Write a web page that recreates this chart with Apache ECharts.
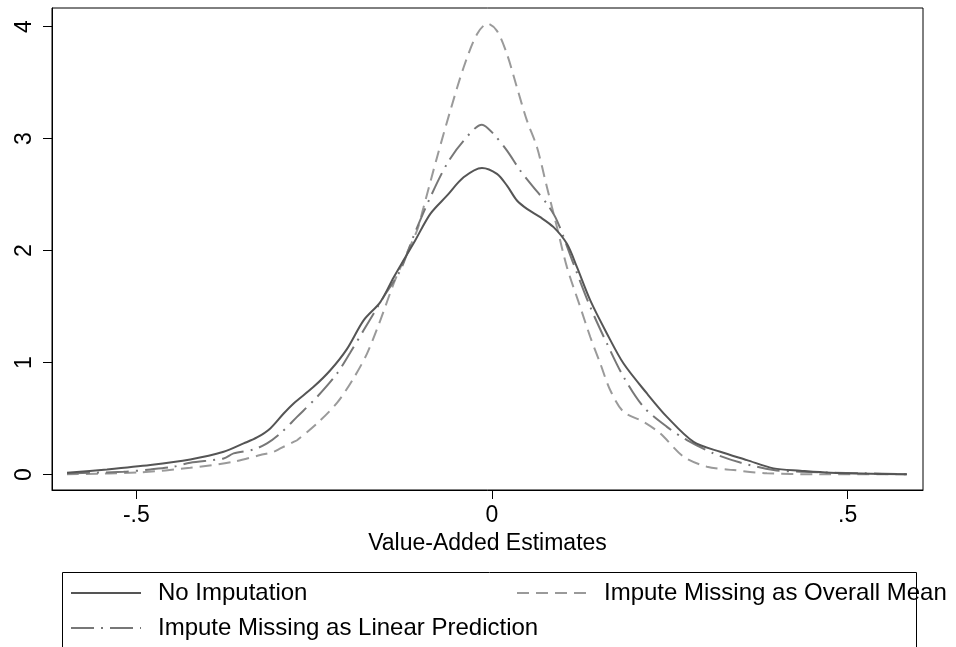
<!DOCTYPE html>
<html>
<head>
<meta charset="utf-8">
<script src="https://cdn.jsdelivr.net/npm/echarts@6/dist/echarts.min.js"></script>
<style>
html,body{margin:0;padding:0;background:#fff;}
#chart{width:956px;height:647px;}
</style>
</head>
<body>
<div id="chart"></div>
<script>
// Series names
var seriesNames = ['No Imputation', 'Impute Missing as Overall Mean', 'Impute Missing as Linear Prediction'];

// Kernel density estimates: [value-added estimate, density]
var noImputation = [
  [-0.5975,0.016],[-0.5413,0.046],[-0.4804,0.085],[-0.4242,0.135],[-0.3773,0.203],
  [-0.3492,0.278],[-0.3304,0.331],[-0.3117,0.412],[-0.2929,0.545],[-0.2789,0.635],
  [-0.2508,0.783],[-0.2273,0.931],[-0.2040,1.12],[-0.1805,1.377],[-0.1570,1.54],
  [-0.1383,1.76],[-0.1080,2.09],[-0.0867,2.328],[-0.0633,2.49],[-0.0399,2.654],
  [-0.0141,2.738],[0.0070,2.685],[0.0211,2.58],[0.0351,2.447],[0.0492,2.372],
  [0.0679,2.298],[0.0866,2.209],[0.1054,2.06],[0.1195,1.852],[0.1382,1.555],
  [0.1617,1.258],[0.1850,0.991],[0.2179,0.724],[0.2460,0.515],[0.2834,0.292],
  [0.3210,0.203],[0.3585,0.129],[0.3959,0.055],[0.4334,0.034],[0.4756,0.016],
  [0.5834,0.002]
];
var overallMean = [
  [-0.5975,0.002],[-0.4944,0.02],[-0.4242,0.06],[-0.3633,0.114],[-0.3258,0.174],
  [-0.3070,0.203],[-0.2976,0.233],[-0.2789,0.292],[-0.2741,0.307],[-0.2460,0.456],
  [-0.2179,0.64],[-0.1946,0.86],[-0.1757,1.08],[-0.1570,1.377],[-0.1383,1.704],
  [-0.1243,1.912],[-0.1054,2.179],[-0.0962,2.387],[-0.0773,2.832],[-0.0586,3.249],
  [-0.0399,3.635],[-0.0211,3.932],[-0.0062,4.027],[0.0070,3.962],[0.0211,3.754],
  [0.0351,3.456],[0.0492,3.16],[0.0633,2.922],[0.0773,2.565],[0.0914,2.209],
  [0.1054,1.852],[0.1241,1.496],[0.1382,1.228],[0.1523,0.991],[0.1663,0.753],
  [0.1850,0.56],[0.2131,0.471],[0.2366,0.367],[0.2694,0.159],[0.3023,0.07],
  [0.3397,0.04],[0.3866,0.011],[0.4521,0.003],[0.5834,0.002]
];
var linearPrediction = [
  [-0.5975,0.01],[-0.5179,0.025],[-0.4804,0.046],[-0.4476,0.07],[-0.4242,0.105],
  [-0.3773,0.144],[-0.3633,0.189],[-0.3352,0.224],[-0.3163,0.278],[-0.2976,0.367],
  [-0.2741,0.515],[-0.2460,0.693],[-0.2179,0.902],[-0.1992,1.09],[-0.1805,1.288],
  [-0.1524,1.585],[-0.1289,1.823],[-0.1102,2.13],[-0.0867,2.476],[-0.0633,2.774],
  [-0.0399,2.981],[-0.0141,3.124],[0.0022,3.041],[0.0211,2.892],[0.0398,2.714],
  [0.0585,2.565],[0.0773,2.417],[0.0914,2.268],[0.1147,1.88],[0.1382,1.496],
  [0.1617,1.169],[0.1850,0.872],[0.2131,0.604],[0.2460,0.426],[0.2741,0.307],
  [0.3115,0.189],[0.3491,0.107],[0.3959,0.04],[0.4334,0.025],[0.5834,0.003]
];

// Axis ticks
var xTickValues = [-0.5, 0, 0.5];
var xTickLabels = ['-.5', '0', '.5'];
var yTickValues = [0, 1, 2, 3, 4];
var yTickLabels = ['0', '1', '2', '3', '4'];
var xTitle = 'Value-Added Estimates';

var FONT = '"Liberation Sans", Arial, Helvetica, sans-serif';

var chart = echarts.init(document.getElementById('chart'), null, {renderer: 'canvas'});

function legendFor(name, left, top) {
  return {
    data: [name],
    left: left, top: top,
    orient: 'horizontal',
    padding: 0,
    itemWidth: 70, itemHeight: 14,
    selectedMode: false,
    itemStyle: {opacity: 0, borderWidth: 0},
    textStyle: {fontSize: 24, color: '#000', fontFamily: FONT, lineHeight: 26, padding: [0,0,0,12]}
  };
}

var option = {
  backgroundColor: '#fff',
  animation: false,
  grid: {left: 52, right: 33, top: 8, bottom: 157, show: true, borderColor: '#000', borderWidth: 1, backgroundColor: 'transparent'},
  xAxis: {
    type: 'value', min: -0.6186, max: 0.606,
    name: xTitle, nameLocation: 'middle', nameGap: 39,
    nameTextStyle: {fontSize: 23, color: '#000', fontFamily: FONT},
    axisLine: {show: true, onZero: false, lineStyle: {color: '#000', width: 1}},
    axisTick: {show: true, customValues: xTickValues, length: 9, lineStyle: {color: '#000', width: 1}},
    axisLabel: {show: true, customValues: xTickValues, margin: 14, fontSize: 23, color: '#000', fontFamily: FONT,
      formatter: function (v) { var i = xTickValues.indexOf(v); return i >= 0 ? xTickLabels[i] : ''; }},
    splitLine: {show: false}
  },
  yAxis: {
    type: 'value', min: -0.138, max: 4.166,
    axisLine: {show: true, onZero: false, lineStyle: {color: '#000', width: 1}},
    axisTick: {show: true, customValues: yTickValues, length: 9, lineStyle: {color: '#000', width: 1}},
    axisLabel: {show: true, customValues: yTickValues, rotate: 90, margin: 16, fontSize: 23, color: '#000', fontFamily: FONT,
      formatter: function (v) { var i = yTickValues.indexOf(v); return i >= 0 ? yTickLabels[i] : ''; }},
    splitLine: {show: false}
  },
  legend: [
    legendFor(seriesNames[0], 70, 580),
    legendFor(seriesNames[1], 516, 580),
    legendFor(seriesNames[2], 70, 615)
  ],
  graphic: [{
    type: 'rect', left: 60, top: 570, z: -1,
    shape: {width: 854, height: 120},
    style: {fill: 'none', stroke: '#000', lineWidth: 1}
  }],
  series: [
    {name: seriesNames[0], type: 'line', data: noImputation, symbol: 'none', smooth: 0.3, z: 3,
      lineStyle: {color: '#555555', width: 2, type: 'solid'}, itemStyle: {color: '#555555'}},
    {name: seriesNames[1], type: 'line', data: overallMean, symbol: 'none', smooth: 0.3, z: 2,
      lineStyle: {color: '#9a9a9a', width: 2, type: [12, 7]}, itemStyle: {color: '#9a9a9a'}},
    {name: seriesNames[2], type: 'line', data: linearPrediction, symbol: 'none', smooth: 0.3, z: 2,
      lineStyle: {color: '#777777', width: 2, type: [23, 7, 2, 7]}, itemStyle: {color: '#777777'}}
  ]
};
chart.setOption(option);
</script>
</body>
</html>
